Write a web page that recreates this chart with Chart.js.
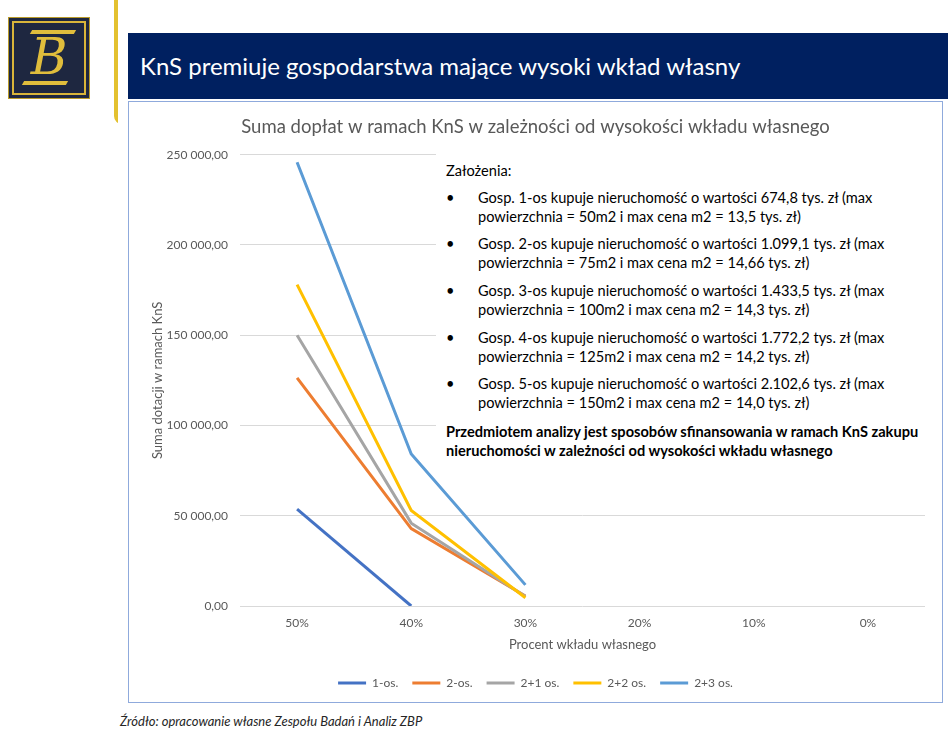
<!DOCTYPE html>
<html><head><meta charset="utf-8">
<script src="https://cdn.jsdelivr.net/npm/chart.js@4.4.0/dist/chart.umd.min.js"></script>
<style>
html,body{margin:0;padding:0;background:#fff;width:948px;height:744px;overflow:hidden;font-family:Lato,"Noto Sans",sans-serif;}
#logo{position:absolute;left:8px;top:17px;width:82px;height:82px;background:#1e2740;box-sizing:border-box;border:1px solid #b89a2a;}
#logo .inner{position:absolute;left:3px;top:3px;right:3px;bottom:3px;border:2px solid #d9b53a;}
#logo .g{position:absolute;left:0;top:4px;width:100%;text-align:center;color:#e0bd3c;font-family:"DejaVu Serif",serif;font-style:italic;font-size:50px;line-height:70px;}
#logo .zt{position:absolute;left:22px;top:12px;width:44px;height:4px;background:#e0bd3c;transform:skewX(-30deg);}
#logo .zb{position:absolute;left:14px;top:63px;width:44px;height:4px;background:#e0bd3c;transform:skewX(-30deg);}
#yline{position:absolute;left:114px;top:-10px;width:8px;height:134px;border-left:4px solid #e3c130;border-bottom:3px solid #e3c130;border-bottom-left-radius:10px;box-sizing:border-box;clip-path:inset(0 4px 0 0);}
#header{position:absolute;left:128px;top:33px;width:820px;height:66px;background:#002060;color:#fff;font-size:24px;line-height:66px;padding-left:12px;box-sizing:border-box;}
#frame{position:absolute;left:128px;top:101px;width:815px;height:602px;border:1px solid #8faadc;box-sizing:border-box;}
#wrap{position:absolute;left:129px;top:102px;width:813px;height:600px;}
#note{position:absolute;left:436px;top:150px;width:504px;height:318px;background:#fff;color:#000;font-size:14.6px;}
#note .h{position:absolute;left:10px;top:12px;}
#note .b{position:absolute;left:10px;width:490px;}
#note .b span.dot{position:absolute;left:0;top:0;}
#note .b div{position:absolute;left:32px;top:0;line-height:18.5px;white-space:nowrap;}
#note .f{position:absolute;left:10px;top:273px;font-weight:bold;line-height:18.5px;white-space:nowrap;}
#foot{position:absolute;left:120px;top:713px;font-size:13px;font-style:italic;color:#262626;}
</style></head>
<body>
<div id="logo"><div class="inner"></div><div class="zt"></div><div class="g">B</div><div class="zb"></div></div>
<div id="yline"></div>
<div id="header">KnS premiuje gospodarstwa mające wysoki wkład własny</div>
<div id="frame"></div>
<div id="wrap"><canvas id="c" width="813" height="600"></canvas></div>
<div id="note">
  <div class="h">Założenia:</div>
  <div class="b" style="top:39px"><span class="dot">•</span><div>Gosp. 1-os kupuje nieruchomość o wartości 674,8 tys. zł (max<br>powierzchnia = 50m2 i max cena m2 = 13,5 tys. zł)</div></div>
  <div class="b" style="top:85px"><span class="dot">•</span><div>Gosp. 2-os kupuje nieruchomość o wartości 1.099,1 tys. zł (max<br>powierzchnia = 75m2 i max cena m2 = 14,66 tys. zł)</div></div>
  <div class="b" style="top:132px"><span class="dot">•</span><div>Gosp. 3-os kupuje nieruchomość o wartości 1.433,5 tys. zł (max<br>powierzchnia = 100m2 i max cena m2 = 14,3 tys. zł)</div></div>
  <div class="b" style="top:179px"><span class="dot">•</span><div>Gosp. 4-os kupuje nieruchomość o wartości 1.772,2 tys. zł (max<br>powierzchnia = 125m2 i max cena m2 = 14,2 tys. zł)</div></div>
  <div class="b" style="top:225px"><span class="dot">•</span><div>Gosp. 5-os kupuje nieruchomość o wartości 2.102,6 tys. zł (max<br>powierzchnia = 150m2 i max cena m2 = 14,0 tys. zł)</div></div>
  <div class="f">Przedmiotem analizy jest sposobów sfinansowania w ramach KnS zakupu<br>nieruchomości w zależności od wysokości wkładu własnego</div>
</div>
<div id="foot">Źródło: opracowanie własne Zespołu Badań i Analiz ZBP</div>
<script>
const categories = ['50%', '40%', '30%', '20%', '10%', '0%'];
const seriesNames = ['1-os.', '2-os.', '2+1 os.', '2+2 os.', '2+3 os.'];
const s1os = [53700, 0, null, null, null, null];
const s2os = [126400, 42900, 5500, null, null, null];
const s21os = [150000, 45900, 5200, null, null, null];
const s22os = [178000, 52900, 4600, null, null, null];
const s23os = [245800, 84200, 11700, null, null, null];
const yTicks = [0, 50000, 100000, 150000, 200000, 250000];
const colors = ['#4472C4', '#ED7D31', '#A5A5A5', '#FFC000', '#5B9BD5'];

const allSeries = [s1os, s2os, s21os, s22os, s23os];
const datasets = allSeries.map((d, i) => ({
  label: seriesNames[i], data: d, borderColor: colors[i], backgroundColor: colors[i],
  borderWidth: 3, pointRadius: 0, pointHoverRadius: 0, tension: 0, spanGaps: false,
  order: allSeries.length - i
}));

function fmt(v){
  const s = Math.round(v).toString().replace(/\B(?=(\d{3})+(?!\d))/g, ' ');
  return s + ',00';
}
const gray = '#595959';
new Chart(document.getElementById('c'), {
  type: 'line',
  data: { labels: categories, datasets },
  options: {
    responsive: false, animation: false, devicePixelRatio: 1,
    layout: { padding: { left: 17, right: 17, top: 0, bottom: 3 } },
    plugins: {
      title: { display: true, text: 'Suma dopłat w ramach KnS w zależności od wysokości wkładu własnego',
        color: gray, font: { family: 'Lato', size: 18.5, weight: 'normal' }, padding: { top: 14, bottom: 16.5 } },
      legend: { position: 'bottom',
        labels: { usePointStyle: true, pointStyle: 'line', pointStyleWidth: 28, color: gray,
          font: { family: 'Lato', size: 12 }, padding: 14,
          sort: (a, b) => a.datasetIndex - b.datasetIndex } },
      tooltip: { enabled: false }
    },
    scales: {
      x: {
        offset: true,
        grid: { display: false, drawTicks: false, offset: true },
        border: { display: false },
        ticks: { color: gray, font: { family: 'Lato', size: 12 }, padding: 10 },
        title: { display: true, text: 'Procent wkładu własnego', color: gray, font: { family: 'Lato', size: 13 }, padding: { top: 4, bottom: 10 } },
        afterFit: s => { s.height = 57; }
      },
      y: {
        min: 0, max: 250000,
        afterBuildTicks: s => { s.ticks = yTicks.map(v => ({ value: v })); },
        grid: { color: '#d9d9d9', drawTicks: false, lineWidth: 1 },
        border: { display: false },
        ticks: { color: gray, font: { family: 'Lato', size: 12 }, padding: 12, callback: v => fmt(v) },
        title: { display: true, text: 'Suma dotacji w ramach KnS', color: gray, font: { family: 'Lato', size: 13 }, padding: { bottom: 6 } },
        afterFit: s => { s.width = 94; }
      }
    }
  }
});
</script>
</body></html>
